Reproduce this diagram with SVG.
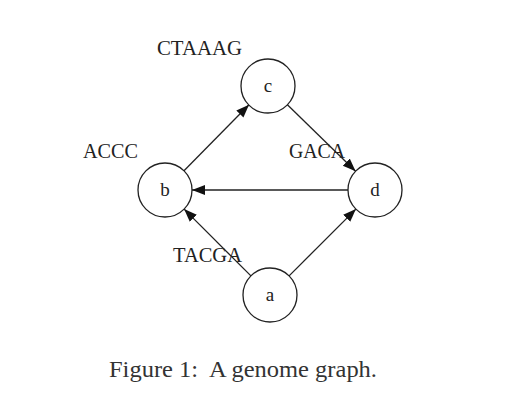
<svg xmlns="http://www.w3.org/2000/svg" width="528" height="409" viewBox="0 0 528 409">
<style>
.node circle{fill:#fff;stroke:#222;stroke-width:1.3}
.node text{font-family:"Liberation Serif",serif;font-size:19px;fill:#222;text-anchor:middle}
.lbl{font-family:"Liberation Serif",serif;font-size:20px;fill:#222}
.edge{stroke:#222;stroke-width:1.3;fill:none;marker-end:url(#ah)}
.cap{font-family:"Liberation Serif",serif;font-size:24px;fill:#333;white-space:pre}
</style>
<defs>
<marker id="ah" markerUnits="userSpaceOnUse" markerWidth="14" markerHeight="11" refX="13" refY="5" orient="auto">
<path d="M0,0 L13,5 L0,10 z" fill="#111"/>
</marker>
</defs>
<rect width="528" height="409" fill="#fff"/>
<g id="connectors">
<line class="edge" x1="184" y1="170.8" x2="249" y2="104.8"/>
<line class="edge" x1="287.4" y1="104.8" x2="355.6" y2="171.2"/>
<line class="edge" x1="348" y1="190" x2="192" y2="190"/>
<line class="edge" x1="250.9" y1="275.9" x2="184.1" y2="209.1"/>
<line class="edge" x1="289.1" y1="275.9" x2="355.9" y2="209.1"/>
</g>
<g id="node-c" class="node"><circle cx="268" cy="86" r="27"/><text x="268" y="92">c</text></g>
<g id="node-b" class="node"><circle cx="165" cy="190" r="27"/><text x="165" y="196">b</text></g>
<g id="node-d" class="node"><circle cx="375" cy="190" r="27"/><text x="375" y="196">d</text></g>
<g id="node-a" class="node"><circle cx="270" cy="295" r="27"/><text x="270" y="301">a</text></g>
<g id="labels">
<text class="lbl" x="157" y="55" textLength="85" lengthAdjust="spacingAndGlyphs">CTAAAG</text>
<text class="lbl" x="83" y="158" textLength="55" lengthAdjust="spacingAndGlyphs">ACCC</text>
<text class="lbl" x="289" y="158" textLength="56" lengthAdjust="spacingAndGlyphs">GACA</text>
<text class="lbl" x="173" y="262" textLength="69" lengthAdjust="spacingAndGlyphs">TACGA</text>
</g>
<text class="cap" x="109" y="377" textLength="268" lengthAdjust="spacingAndGlyphs" xml:space="preserve">Figure 1:  A genome graph.</text>
</svg>
